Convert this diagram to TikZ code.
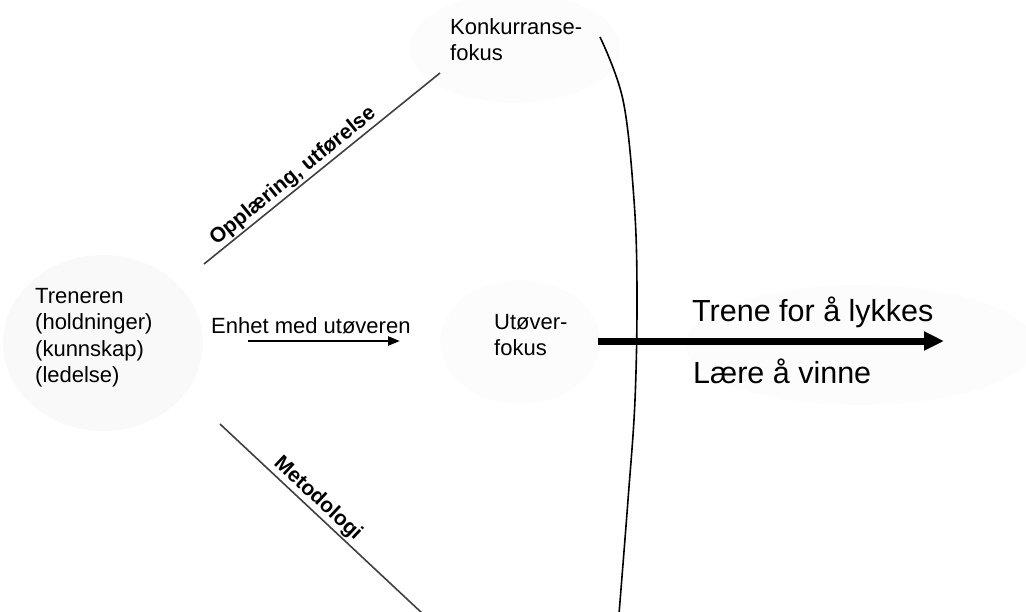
\documentclass[tikz,border=0pt]{standalone}
\usepackage{fontspec}
\setmainfont{Liberation Sans}
\usetikzlibrary{arrows.meta}
\begin{document}
\begin{tikzpicture}[x=1pt,y=-1pt,
  lbl/.style={font=\fontsize{22}{26.5}\selectfont, align=left, inner sep=0pt},
  big/.style={font=\fontsize{30.5}{36}\selectfont, inner sep=0pt},
  rot/.style={font=\bfseries\fontsize{21}{24}\selectfont, sloped, inner sep=1.5pt},
  blob/.style={fill=black!2.5, draw=none},
  fline/.style={draw=black!75, line width=1.6pt},
]
\useasboundingbox (0,0) rectangle (1026,611);
% faint background blobs
\path[blob] (103,343) ellipse [x radius=100, y radius=88];
\path[blob, fill=black!1.2] (515,48) ellipse [x radius=105, y radius=55];
\path[blob, fill=black!1.2] (520,342) ellipse [x radius=80, y radius=62];
\path[blob, fill=black!1.2] (860,345) ellipse [x radius=175, y radius=60];

% texts
\node[lbl, anchor=north west] (tren) at (35,288) {Treneren\\(holdninger)\\(kunnskap)\\(ledelse)};
\node[lbl, anchor=north west] (konk) at (450,18) {Konkurranse-\\fokus};
\node[lbl, anchor=north west] (utov) at (494,314) {Utøver-\\fokus};
\node[lbl, anchor=base west] (enhet) at (211,333) {Enhet med utøveren};
\node[big, anchor=base west] (trene) at (692,321) {Trene for å lykkes};
\node[big, anchor=base west] (laere) at (693,383) {Lære å vinne};

% connector end points
\coordinate (u1) at (204,264);
\coordinate (u2) at (440,73);
\coordinate (l1) at (220,424);
\coordinate (l2) at (423,614);
\coordinate (e1) at (248,341);
\coordinate (e2) at (400,341);
\coordinate (a1) at (598,341);
\coordinate (a2) at (944,341);

% diagonal lines with labels
\draw[fline] (u1) -- (u2) node[rot, pos=0.41, above] {Opplæring, utførelse};
\draw[fline] (l1) -- (l2) node[rot, pos=0.44, above] {Metodologi};

% curve
\draw[line width=1.6pt] plot[smooth, tension=0.6] coordinates
  {(600,37) (623,100) (634,200) (637,290) (635,400) (628,500) (619,614)};

% arrows
\draw[line width=2.4pt, -{Triangle[length=12pt,width=9pt]}] (e1) -- (e2);
\draw[line width=7pt, -{Triangle[length=20pt,width=18pt]}] (a1) -- (a2);
\end{tikzpicture}
\end{document}
